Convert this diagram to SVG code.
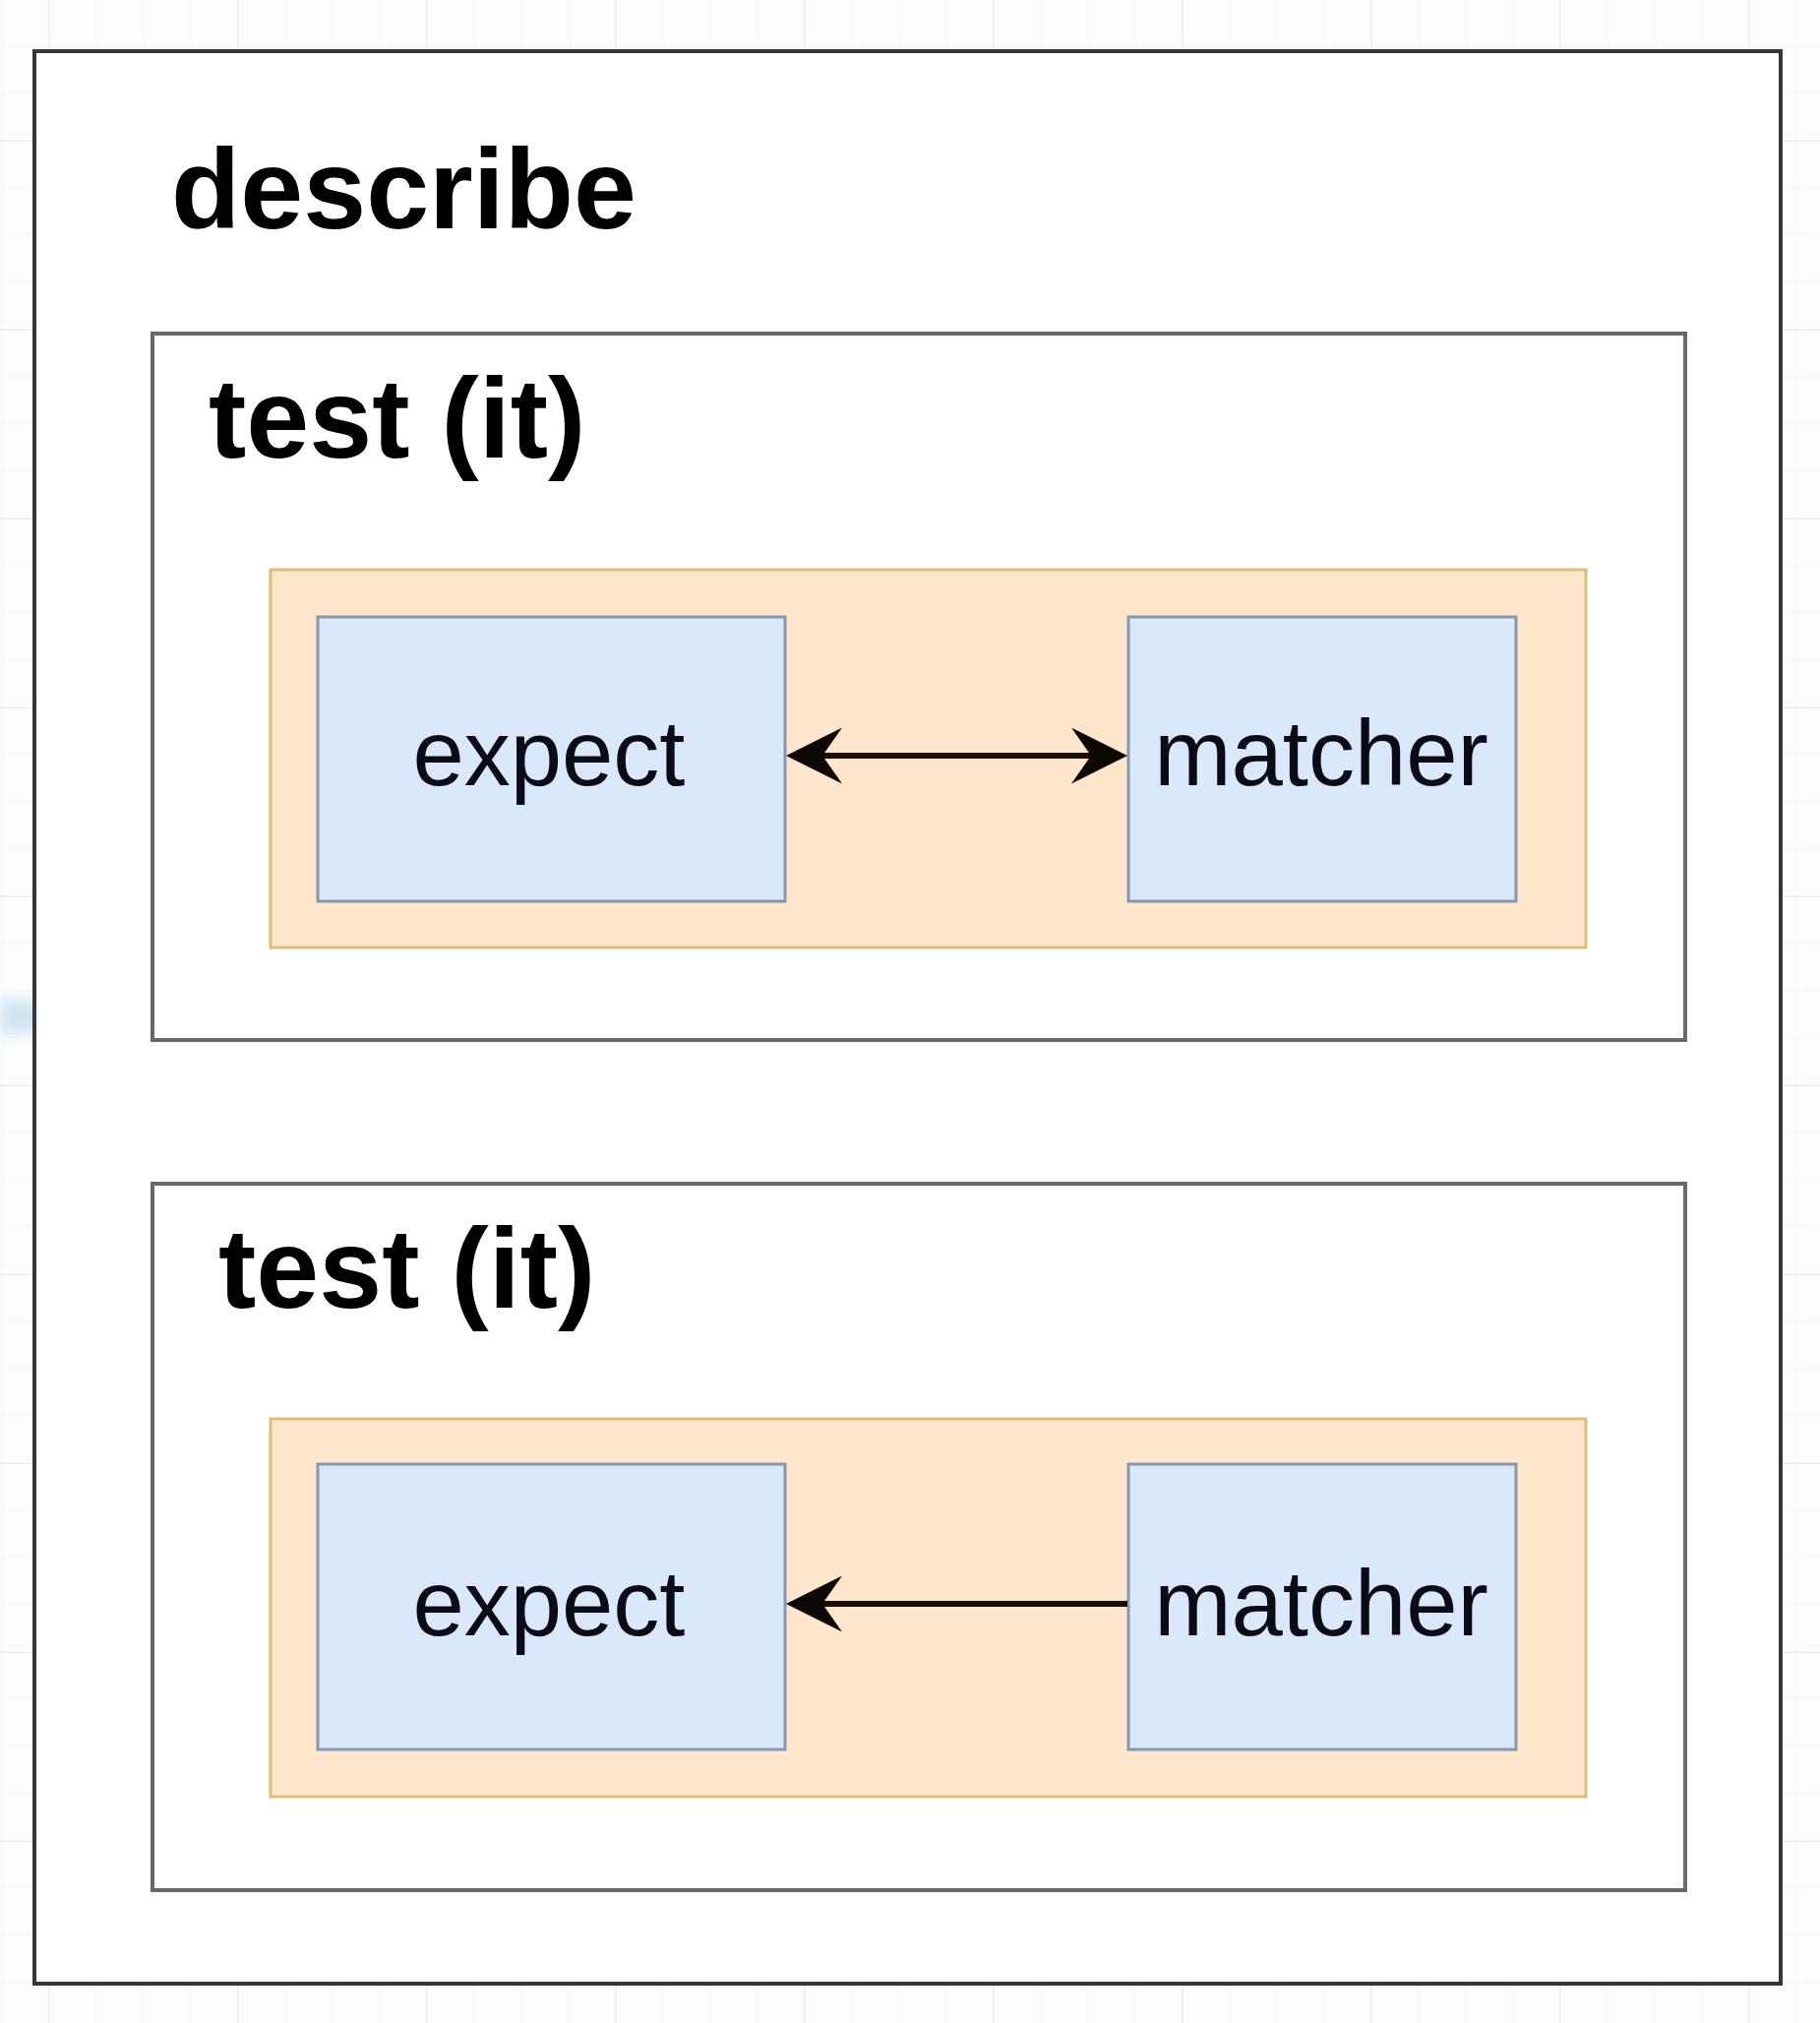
<svg xmlns="http://www.w3.org/2000/svg" width="1850" height="2056" viewBox="0 0 1850 2056">
  <defs>
    <pattern id="minor" x="49" y="143" width="48" height="48" patternUnits="userSpaceOnUse">
      <path d="M0,0 H48 M0,0 V48" fill="none" stroke="#f5f5f5" stroke-width="1.5"/>
    </pattern>
    <pattern id="major" x="49" y="143" width="192" height="192" patternUnits="userSpaceOnUse">
      <rect width="192" height="192" fill="url(#minor)"/>
      <path d="M0,0 H192 M0,0 V192" fill="none" stroke="#ebebeb" stroke-width="2"/>
    </pattern>
    <marker id="arrow" viewBox="0 0 57 57" refX="37" refY="28.5" markerWidth="57" markerHeight="57" markerUnits="userSpaceOnUse" orient="auto-start-reverse">
      <path d="M57,28.5 L0,0 L20,28.5 L0,57 Z" fill="#0d0805"/>
    </marker>
    <filter id="blur" x="-50%" y="-50%" width="200%" height="200%">
      <feGaussianBlur stdDeviation="7"/>
    </filter>
  </defs>
  <style>
    .outer { fill: #ffffff; stroke: #363636; stroke-width: 4; }
    .test { fill: #ffffff; stroke: #686868; stroke-width: 4; }
    .group { fill: #ffe6cc; stroke: #dfbd72; stroke-width: 3; }
    .box { fill: #dae8fc; stroke: #8596b0; stroke-width: 3; }
    .title { font-family: "Liberation Sans", Arial, Helvetica, sans-serif; font-weight: bold; font-size: 115px; fill: #000000; }
    .label { font-family: "Liberation Sans", Arial, Helvetica, sans-serif; font-size: 94px; fill: #0b0b16; text-anchor: middle; }
    .conn { fill: none; stroke: #1a100a; stroke-width: 6; }
  </style>

  <rect x="0" y="0" width="1850" height="2056" fill="#fdfdfd"/>
  <rect x="0" y="0" width="1850" height="2056" fill="url(#major)"/>

  <path d="M0,1014 L50,1018 L78,1033 L50,1048 L0,1052 Z" fill="#c6e2f2" opacity="0.85" filter="url(#blur)"/>

  <g id="describe">
    <rect class="outer" x="35" y="52" width="1775" height="1964"/>
    <text class="title" x="174" y="232">describe</text>
  </g>

  <g id="test1">
    <rect class="test" x="155" y="339" width="1558" height="718"/>
    <text class="title" x="212" y="465">test (it)</text>
  </g>

  <g id="group1">
    <rect class="group" x="275" y="579" width="1337" height="384"/>
  </g>
  <g id="expect1">
    <rect class="box" x="323" y="627" width="475" height="289"/>
    <text class="label" x="558" y="798">expect</text>
  </g>
  <g id="matcher1">
    <rect class="box" x="1147" y="627" width="394" height="289"/>
    <text class="label" x="1343" y="798">matcher</text>
  </g>

  <g id="test2">
    <rect class="test" x="155" y="1203" width="1558" height="718"/>
    <text class="title" x="222" y="1329">test (it)</text>
  </g>

  <g id="group2">
    <rect class="group" x="275" y="1442" width="1337" height="384"/>
  </g>
  <g id="expect2">
    <rect class="box" x="323" y="1488" width="475" height="290"/>
    <text class="label" x="558" y="1662">expect</text>
  </g>
  <g id="matcher2">
    <rect class="box" x="1147" y="1488" width="394" height="290"/>
    <text class="label" x="1343" y="1662">matcher</text>
  </g>

  <g id="connectors">
    <line class="conn" x1="819" y1="768" x2="1126" y2="768" marker-start="url(#arrow)" marker-end="url(#arrow)"/>
    <line class="conn" x1="1146" y1="1630" x2="819" y2="1630" marker-end="url(#arrow)"/>
  </g>
</svg>
